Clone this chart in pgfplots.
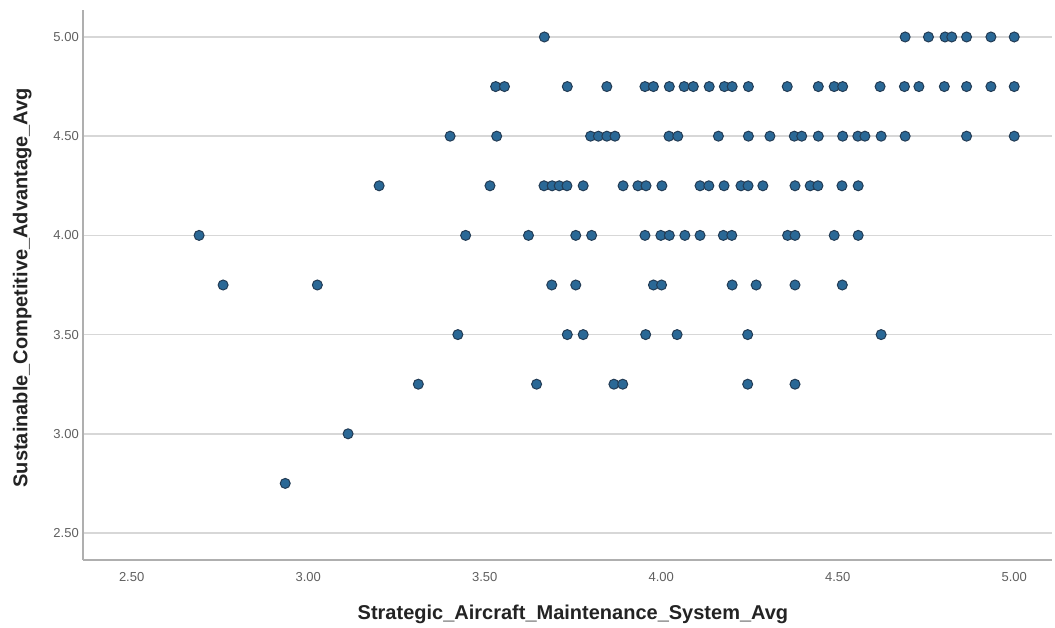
\documentclass[border=0pt]{standalone}
\usepackage{fontspec}
\setmainfont{Liberation Sans}
\usepackage{pgfplots}
\pgfplotsset{compat=1.18}
\definecolor{dotfill}{RGB}{42,104,150}
\definecolor{dotedge}{RGB}{35,60,85}
\definecolor{gridc}{RGB}{215,215,215}
\definecolor{spinec}{RGB}{175,175,175}
\definecolor{tickc}{RGB}{95,95,95}
\definecolor{labc}{RGB}{35,35,35}
\begin{document}
\begin{tikzpicture}
\useasboundingbox (0,0) rectangle (1055pt,628pt);
\begin{axis}[
  at={(83.3pt,68pt)}, anchor=south west,
  scale only axis, width=968.7pt, height=550pt,
  xmin=2.363, xmax=5.107, ymin=2.364, ymax=5.136,
  axis lines=left,
  axis line style={-, draw=spinec, line width=2pt},
  xtick={2.5,3,3.5,4,4.5,5},
  ytick={2.5,3,3.5,4,4.5,5},
  major tick length=0pt,
  ymajorgrids,
  grid style={draw=gridc, line width=1.6pt},
  /pgf/number format/assume math mode=true,
  xticklabel={\pgfmathprintnumber[fixed,fixed zerofill,precision=2]{\tick}},
  yticklabel={\pgfmathprintnumber[fixed,fixed zerofill,precision=2]{\tick}},
  tick label style={font=\fontsize{13}{15}\selectfont, text=tickc},
  xticklabel style={yshift=-9pt},
  yticklabel style={xshift=-1pt},
  xlabel={Strategic\_Aircraft\_Maintenance\_System\_Avg},
  ylabel={Sustainable\_Competitive\_Advantage\_Avg},
  xlabel style={at={(axis description cs:0.5055,-0.098)}, anchor=center, font=\bfseries\fontsize{20}{23}\selectfont, text=labc},
  ylabel style={at={(axis description cs:-0.063,0.495)}, anchor=center, rotate=0, font=\bfseries\fontsize{20}{23}\selectfont, text=labc},
  clip=false,
]
\addplot[only marks, mark=*, mark size=5pt, mark options={fill=dotfill, draw=dotedge, line width=1pt}] table {
x y
3.669 5.00
4.691 5.00
4.757 5.00
4.804 5.00
4.823 5.00
4.865 5.00
4.934 5.00
5.000 5.00
3.531 4.75
3.556 4.75
3.734 4.75
3.846 4.75
3.954 4.75
3.978 4.75
4.023 4.75
4.065 4.75
4.091 4.75
4.136 4.75
4.179 4.75
4.201 4.75
4.247 4.75
4.357 4.75
4.445 4.75
4.490 4.75
4.514 4.75
4.620 4.75
4.689 4.75
4.730 4.75
4.802 4.75
4.865 4.75
4.934 4.75
5.000 4.75
3.402 4.50
3.534 4.50
3.800 4.50
3.822 4.50
3.846 4.50
3.869 4.50
4.022 4.50
4.047 4.50
4.162 4.50
4.247 4.50
4.308 4.50
4.377 4.50
4.398 4.50
4.445 4.50
4.514 4.50
4.557 4.50
4.577 4.50
4.623 4.50
4.691 4.50
4.865 4.50
5.000 4.50
3.201 4.25
3.515 4.25
3.668 4.25
3.691 4.25
3.711 4.25
3.733 4.25
3.779 4.25
3.892 4.25
3.934 4.25
3.957 4.25
4.002 4.25
4.110 4.25
4.135 4.25
4.178 4.25
4.226 4.25
4.246 4.25
4.288 4.25
4.379 4.25
4.422 4.25
4.444 4.25
4.512 4.25
4.558 4.25
2.691 4.00
3.446 4.00
3.624 4.00
3.758 4.00
3.803 4.00
3.954 4.00
3.999 4.00
4.023 4.00
4.067 4.00
4.110 4.00
4.176 4.00
4.200 4.00
4.358 4.00
4.379 4.00
4.490 4.00
4.558 4.00
2.759 3.75
3.026 3.75
3.690 3.75
3.758 3.75
3.978 3.75
4.001 3.75
4.201 3.75
4.269 3.75
4.379 3.75
4.513 3.75
3.424 3.50
3.734 3.50
3.779 3.50
3.956 3.50
4.045 3.50
4.245 3.50
4.623 3.50
3.312 3.25
3.647 3.25
3.866 3.25
3.891 3.25
4.245 3.25
4.379 3.25
3.113 3.00
2.935 2.75
};
\end{axis}
\end{tikzpicture}
\end{document}
